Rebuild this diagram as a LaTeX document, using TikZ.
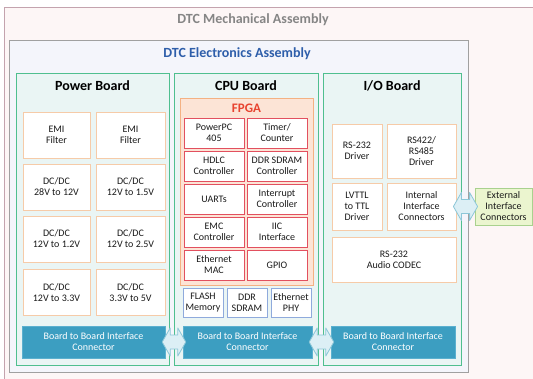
\documentclass[tikz,border=0pt]{standalone}
\usepackage{fontspec}
\setmainfont{Carlito}
\usetikzlibrary{calc,positioning}

\definecolor{mechline}{HTML}{C4A3AE}
\definecolor{mechfill}{HTML}{FDF6F6}
\definecolor{mechtext}{HTML}{858585}
\definecolor{elecline}{HTML}{A0A0A0}
\definecolor{elecfill}{HTML}{F4F5FB}
\definecolor{electext}{HTML}{2E5EAA}
\definecolor{boardline}{HTML}{4FBF8F}
\definecolor{boardfill}{HTML}{EAF5F4}
\definecolor{cellline}{HTML}{F6CBA8}
\definecolor{fpgaline}{HTML}{F4B183}
\definecolor{fpgafill}{HTML}{FCE4D6}
\definecolor{fpgared}{HTML}{E8432F}
\definecolor{logicline}{HTML}{E2505F}
\definecolor{memline}{HTML}{8FAADC}
\definecolor{connfill}{HTML}{3C9EC1}
\definecolor{connline}{HTML}{5BB0CF}
\definecolor{linkfill}{HTML}{DCEFF5}
\definecolor{linkline}{HTML}{8CC7D8}
\definecolor{extfill}{HTML}{EBF5CF}
\definecolor{extline}{HTML}{A9D18E}
\definecolor{cellt}{HTML}{1A1A1A}

% block arrow between two nodes
\newcommand{\linkarrow}[2]{%
  \filldraw[linkstyle] ($(#1.east)+(-3,0)$) -- ($(#1.east)+(5,-14)$) -- ($(#1.east)+(5,-7)$)
    -- ($(#2.west)+(-5,-7)$) -- ($(#2.west)+(-5,-14)$) -- ($(#2.west)+(3,0)$)
    -- ($(#2.west)+(-5,14)$) -- ($(#2.west)+(-5,7)$) -- ($(#1.east)+(5,7)$)
    -- ($(#1.east)+(5,14)$) -- cycle;}

\begin{document}
\begin{tikzpicture}[x=1pt, y=-1pt,
    board/.style={draw=boardline, fill=boardfill, line width=0.8pt, minimum width=#1, minimum height=292},
    boardtitle/.style={font=\fontsize{14}{16}\selectfont\bfseries, text=black, inner sep=0pt},
    cell/.style={draw=cellline, fill=white, line width=0.8pt, align=center, text=cellt,
      font=\fontsize{10}{11}\selectfont, inner sep=1pt},
    logic/.style={cell, draw=logicline, minimum width=60, minimum height=30},
    mem/.style={cell, draw=memline, minimum width=40, minimum height=29},
    conn/.style={draw=connline, fill=connfill, text=white, align=center,
      font=\fontsize{10}{11}\selectfont, minimum height=32},
    linkstyle/.style={draw=linkline, fill=linkfill, line width=0.8pt, line join=round}]
    \useasboundingbox (0,0) rectangle (533,378);
    \clip (0,0) rectangle (533,378);

    % Assemblies
    \node[draw=mechline, fill=mechfill, line width=0.8pt, minimum width=560, minimum height=400,
      anchor=north west] (mech) at (4,7) {};
    \node[font=\fontsize{14}{16}\selectfont\bfseries, text=mechtext] (mechtitle) at (253,20) {DTC Mechanical Assembly};
    \node[draw=elecline, fill=elecfill, line width=0.8pt, minimum width=459, minimum height=332] (elec) at (238.5,206) {};
    \node[font=\fontsize{14}{16}\selectfont\bfseries, text=electext] (electitle) at (237,54) {DTC Electronics Assembly};

    % Boards
    \node[board=153] (pwr) at (92.5,219) {};
    \node[board=144] (cpu) at (246,219) {};
    \node[board=138] (io) at (392,219) {};
    \node[boardtitle, below=8pt of pwr.north] (pwrtitle) {Power Board};
    \node[boardtitle, below=8pt of cpu.north] (cputitle) {CPU Board};
    \node[boardtitle, below=8pt of io.north] (iotitle) {I/O Board};

    % Power board
    \node[cell, minimum width=67, minimum height=46] (emia) at (56.5,135) {EMI\\Filter};
    \node[cell, minimum width=69, minimum height=46] (emib) at (130.5,135) {EMI\\Filter};
    \node[cell, minimum width=67, minimum height=46] (dca) at (56.5,187) {DC/DC\\28V to 12V};
    \node[cell, minimum width=69, minimum height=46] (dcb) at (130.5,187) {DC/DC\\12V to 1.5V};
    \node[cell, minimum width=67, minimum height=46] (dcc) at (56.5,239) {DC/DC\\12V to 1.2V};
    \node[cell, minimum width=69, minimum height=46] (dcd) at (130.5,239) {DC/DC\\12V to 2.5V};
    \node[cell, minimum width=67, minimum height=46] (dce) at (56.5,292.5) {DC/DC\\12V to 3.3V};
    \node[cell, minimum width=69, minimum height=46] (dcf) at (130.5,292.5) {DC/DC\\3.3V to 5V};
    \node[conn, minimum width=143] (pwrconn) at (93.5,342) {Board to Board Interface\\Connector};

    % CPU board
    \node[draw=fpgaline, fill=fpgafill, line width=0.8pt, minimum width=133, minimum height=187] (fpga) at (246.5,191.5) {};
    \node[font=\fontsize{13}{15}\selectfont\bfseries, text=fpgared, below=3pt of fpga.north] (fpgatitle) {FPGA};
    \node[logic] (ppc) at (214,133) {PowerPC\\405};
    \node[logic] (timer) at (277,133) {Timer/\\Counter};
    \node[logic] (hdlc) at (214,166) {HDLC\\Controller};
    \node[logic] (ddrctl) at (277,166) {DDR SDRAM\\Controller};
    \node[logic] (uart) at (214,199) {UARTs};
    \node[logic] (intc) at (277,199) {Interrupt\\Controller};
    \node[logic] (emc) at (214,232) {EMC\\Controller};
    \node[logic] (iic) at (277,232) {IIC\\Interface};
    \node[logic] (emac) at (214,265) {Ethernet\\MAC};
    \node[logic] (gpio) at (277,265) {GPIO};
    \node[mem] (flash) at (203,302.5) {FLASH\\Memory};
    \node[mem] (ddr) at (247,302.5) {DDR\\SDRAM};
    \node[mem] (phy) at (291,302.5) {Ethernet\\PHY};
    \node[conn, minimum width=129] (cpuconn) at (247.5,342) {Board to Board Interface\\Connector};

    % I/O board
    \node[cell, minimum width=50, minimum height=54] (rs232) at (357,151) {RS-232\\Driver};
    \node[cell, minimum width=69, minimum height=54] (rs422) at (421.5,151) {RS422/\\RS485\\Driver};
    \node[cell, minimum width=50, minimum height=47] (lvttl) at (357,206.5) {LVTTL\\to TTL\\Driver};
    \node[cell, minimum width=69, minimum height=47] (intconn) at (421.5,206.5) {Internal\\Interface\\Connectors};
    \node[cell, minimum width=124, minimum height=45] (codec) at (394,259.5) {RS-232\\Audio CODEC};
    \node[conn, minimum width=124] (ioconn) at (393,342) {Board to Board Interface\\Connector};

    % External
    \node[cell, draw=extline, fill=extfill, minimum width=57, minimum height=37] (ext) at (503.5,206.5) {External\\Interface\\Connectors};

    % Links
    \linkarrow{pwrconn}{cpuconn}
    \linkarrow{cpuconn}{ioconn}
    \linkarrow{intconn}{ext}
\end{tikzpicture}
\end{document}
